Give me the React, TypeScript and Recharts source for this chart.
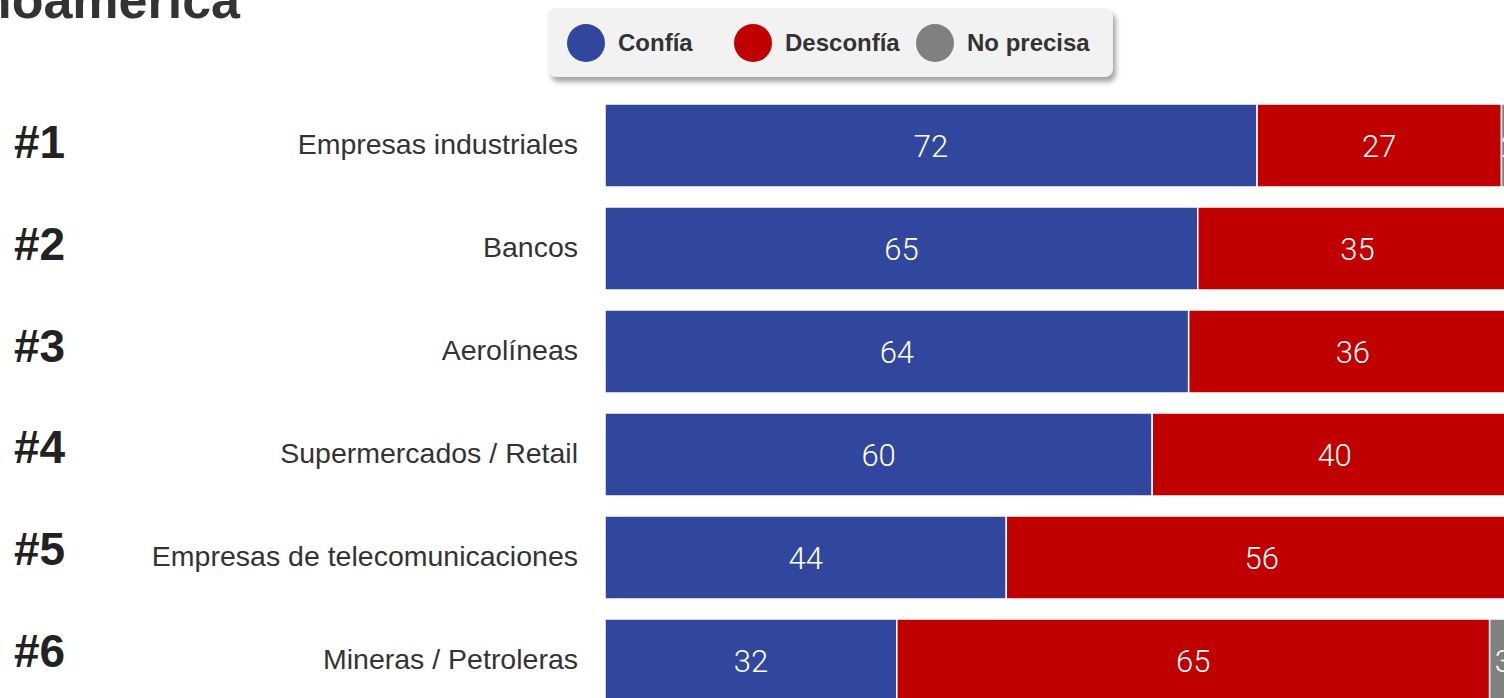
import { BarChart, Bar, XAxis, YAxis, LabelList } from "recharts";

const categories = [
  "Empresas industriales",
  "Bancos",
  "Aerolíneas",
  "Supermercados / Retail",
  "Empresas de telecomunicaciones",
  "Mineras / Petroleras",
];
const ranks = ["#1", "#2", "#3", "#4", "#5", "#6"];
const confia = [71.5, 65, 64, 60, 44, 32];
const desconfia = [26.8, 35, 36, 40, 56, 65];
const noPrecisa = [1.7, 0, 0, 0, 0, 3];

const data = categories.map((name, i) => ({
  name,
  rank: ranks[i],
  confia: confia[i],
  desconfia: desconfia[i],
  noPrecisa: noPrecisa[i],
}));

const BLUE = "#31479d";
const RED = "#c00000";
const GRAY = "#808080";

const legendItems = [
  { label: "Confía", color: BLUE, left: 19 },
  { label: "Desconfía", color: RED, left: 186 },
  { label: "No precisa", color: GRAY, left: 368 },
];

const fmt = (v: any) => (Number(v) > 0 ? Math.round(Number(v)) : "");

const CategoryTick = (props: any) => {
  const { y, payload, index } = props;
  return (
    <g>
      <text
        x={14}
        y={y + 12.5 - index * 1.2}
        fontSize={46}
        fontWeight="bold"
        fill="#222"
        fontFamily="'Liberation Sans', Arial, sans-serif"
      >
        {ranks[index]}
      </text>
      <text
        x={578}
        y={y + 8.5}
        textAnchor="end"
        fontSize={28.5}
        fill="#333"
        fontFamily="'Liberation Sans', Arial, sans-serif"
      >
        {payload.value}
      </text>
    </g>
  );
};

const labelStyle = {
  fill: "#fff",
  fontSize: 31,
  fontWeight: 300,
  fontFamily: "Roboto, 'Liberation Sans', sans-serif",
};

export default function App() {
  return (
    <div
      style={{
        position: "absolute",
        left: 0,
        top: 0,
        width: 1504,
        height: 698,
        overflow: "hidden",
        background: "#fff",
      }}
    >
      <svg width={1504} height={60} style={{ position: "absolute", left: 0, top: 0 }}>
        <text
          x={240}
          y={18}
          textAnchor="end"
          fontSize={52}
          fontWeight="bold"
          fill="#333"
          fontFamily="'Liberation Sans', Arial, sans-serif"
        >
          Latinoamérica
        </text>
      </svg>

      <div style={{ position: "absolute", left: 0, top: 0 }}>
        <BarChart
          width={1530}
          height={720}
          data={data}
          layout="vertical"
          margin={{ top: 94, right: 13, left: 0, bottom: 8 }}
        >
          <XAxis type="number" domain={[0, 100]} hide />
          <YAxis
            type="category"
            dataKey="name"
            width={605}
            axisLine={false}
            tickLine={false}
            tick={<CategoryTick />}
          />
          <Bar dataKey="confia" stackId="a" fill={BLUE} stroke="#fff" strokeWidth={1.5} barSize={83} isAnimationActive={false}>
            <LabelList dataKey="confia" position="center" formatter={fmt} style={labelStyle} />
          </Bar>
          <Bar dataKey="desconfia" stackId="a" fill={RED} stroke="#fff" strokeWidth={1.5} barSize={83} isAnimationActive={false}>
            <LabelList dataKey="desconfia" position="center" formatter={fmt} style={labelStyle} />
          </Bar>
          <Bar dataKey="noPrecisa" stackId="a" fill={GRAY} stroke="#fff" strokeWidth={1.5} barSize={83} isAnimationActive={false}>
            <LabelList dataKey="noPrecisa" position="center" formatter={fmt} style={labelStyle} />
          </Bar>
        </BarChart>
      </div>

      <div
        style={{
          position: "absolute",
          left: 548,
          top: 8,
          width: 565,
          height: 69,
          borderRadius: 8,
          background: "#f2f2f2",
          boxShadow: "3px 5px 5px rgba(0,0,0,0.35)",
        }}
      >
        {legendItems.map((it) => (
          <div
            key={it.label}
            style={{
              position: "absolute",
              left: it.left,
              top: 16,
              height: 38,
              display: "flex",
              alignItems: "center",
              gap: 13,
              fontFamily: "'Liberation Sans', Arial, sans-serif",
              fontWeight: "bold",
              fontSize: 24,
              color: "#333",
              whiteSpace: "nowrap",
            }}
          >
            <span
              style={{
                display: "inline-block",
                width: 38,
                height: 38,
                borderRadius: "50%",
                background: it.color,
              }}
            />
            <span>{it.label}</span>
          </div>
        ))}
      </div>
    </div>
  );
}
